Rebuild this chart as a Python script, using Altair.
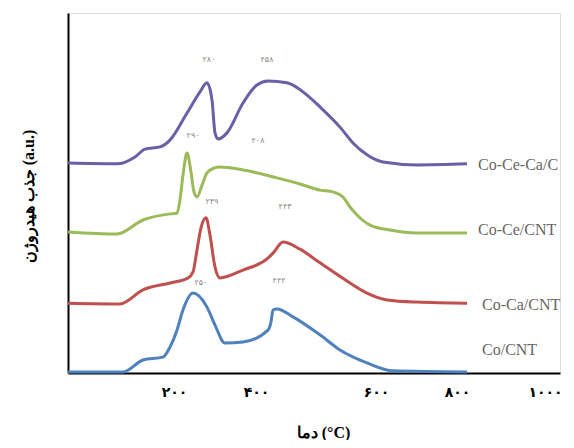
import altair as alt
import pandas as pd

# Curve data (x: temperature-axis units 0-1000, y: relative absorption 0-100)
purple_x = [0, 99.6, 136.2, 156.5, 187.0, 207.3, 241.9, 268.3, 282.5, 292.7, 298.8, 304.9, 323.2,
            355.7, 384.1, 406.5, 445.1, 485.8, 512.2, 552.8, 579.3, 607.7, 640.2, 709.3, 811.0]
purple_y = [58.3, 58.1, 60.0, 62.2, 62.8, 64.7, 72.2, 78.1, 80.6, 75.8, 66.7, 65.0, 66.7,
            75.0, 80.0, 81.1, 80.6, 77.2, 73.9, 68.3, 63.9, 60.6, 58.6, 57.8, 58.1]

green_x = [0, 99.6, 152.4, 207.3, 221.5, 227.6, 233.7, 241.9, 250.0, 256.1, 262.2, 272.4, 282.5,
           296.7, 308.9, 355.7, 424.8, 471.5, 512.2, 538.6, 558.9, 573.2, 587.4, 613.8, 654.5, 709.3, 811.0]
green_y = [39.2, 38.6, 42.5, 44.2, 44.4, 48.1, 55.0, 61.1, 55.8, 50.3, 48.9, 52.2, 55.6,
           56.9, 57.2, 56.4, 54.2, 52.5, 50.8, 50.3, 48.9, 46.1, 43.9, 41.1, 39.7, 38.9, 38.9]

red_x = [0, 105.7, 152.4, 207.3, 243.9, 254.1, 262.2, 270.3, 280.5, 288.6, 298.8, 308.9, 355.7,
         404.5, 416.7, 437.0, 471.5, 512.2, 573.2, 607.7, 648.4, 709.3, 811.0]
red_y = [19.4, 19.2, 23.1, 25.0, 26.4, 28.1, 34.2, 40.3, 43.1, 38.3, 29.4, 26.4, 28.6,
         31.7, 33.3, 36.4, 34.4, 30.6, 25.0, 22.2, 20.3, 19.7, 19.4]

blue_x = [0, 111.8, 152.4, 193.1, 207.3, 221.5, 233.7, 254.1, 282.5, 298.8, 319.1, 355.7, 406.5,
          412.6, 416.7, 424.8, 457.3, 512.2, 552.8, 607.7, 660.6, 811.0]
blue_y = [0.3, 0.3, 3.6, 4.4, 7.2, 11.9, 17.5, 22.2, 18.3, 13.3, 8.3, 8.6, 11.9,
          14.2, 17.5, 17.8, 15.6, 10.6, 6.4, 2.8, 0.6, 0.3]

series_names = ["Co-Ce-Ca/C", "Co-Ce/CNT", "Co-Ca/CNT", "Co/CNT"]
series_colors = ["#6C5FA7", "#9BBB59", "#C0504D", "#4F81BD"]

# Series name labels at the right end of each curve
name_x = [833.5, 833.5, 841.5, 841.5]
name_y = [57.8, 39.7, 18.9, 6.4]

# Peak temperature annotations
peak_labels = ["۲۸۰", "۴۵۸", "۲۹۰", "۴۰۸", "۲۳۹", "۴۴۳", "۲۵۰", "۴۴۲"]
peak_x = [286.6, 404.5, 254.1, 386.2, 292.7, 441.1, 270.3, 428.9]
peak_y = [86.9, 86.9, 65.8, 64.4, 47.5, 46.1, 25.0, 25.6]

# x-axis tick positions and labels
tick_pos = [215.4, 382.1, 626.0, 790.7, 969.5]
tick_labels = ["۲۰۰", "۴۰۰", "۶۰۰", "۸۰۰", "۱۰۰۰"]

rows = []
for name, xs, ys in zip(series_names, [purple_x, green_x, red_x, blue_x],
                        [purple_y, green_y, red_y, blue_y]):
    for i, (xv, yv) in enumerate(zip(xs, ys)):
        rows.append({"series": name, "x": xv, "y": yv, "order": i})
df = pd.DataFrame(rows)

names_df = pd.DataFrame({"series": series_names, "x": name_x, "y": name_y})
peaks_df = pd.DataFrame({"label": peak_labels, "x": peak_x, "y": peak_y})

label_expr = " : ".join(
    [f"datum.value == {p} ? '{l}'" for p, l in zip(tick_pos, tick_labels)]
) + " : ''"

xscale = alt.Scale(domain=[0, 1000], nice=False, zero=False)
yscale = alt.Scale(domain=[0, 100], nice=False)

color = alt.Color("series:N", scale=alt.Scale(domain=series_names, range=series_colors), legend=None)

lines = alt.Chart(df).mark_line(strokeWidth=3, interpolate="monotone").encode(
    x=alt.X("x:Q", scale=xscale, axis=alt.Axis(
        values=tick_pos, labelExpr=label_expr, ticks=False, grid=False,
        domainColor="black", domainWidth=2,
        labelFont="DejaVu Sans", labelFontSize=14, labelFontWeight="bold", labelColor="black",
        labelPadding=12, labelFlush=False, labelOverlap=False,
        title="دما (°C)", titleFont="Liberation Serif", titleFontSize=16, titleFontWeight="bold",
        titleColor="black", titleX=255, titleY=59, titleBaseline="middle", titleAlign="center")),
    y=alt.Y("y:Q", scale=yscale, axis=alt.Axis(
        labels=False, ticks=False, grid=False, domainColor="black", domainWidth=2,
        title="جذب هیدروژن (a.u.)", titleFont="Liberation Serif", titleFontSize=16,
        titleFontWeight="bold", titleColor="black", titlePadding=32, titleY=183)),
    color=color,
    order="order:Q",
    detail="series:N",
)

names = alt.Chart(names_df).mark_text(
    align="left", baseline="middle", font="Liberation Serif", fontSize=16, color="#666666"
).encode(x=alt.X("x:Q", scale=xscale), y=alt.Y("y:Q", scale=yscale), text="series:N")

peaks = alt.Chart(peaks_df).mark_text(
    align="center", baseline="middle", font="DejaVu Sans", fontSize=8, color="#888888"
).encode(x=alt.X("x:Q", scale=xscale), y=alt.Y("y:Q", scale=yscale), text="label:N")

chart = alt.layer(lines, names, peaks).properties(
    width=492, height=360,
    autosize=alt.AutoSizeParams(type="none"),
    padding={"left": 60, "top": 5, "right": 6, "bottom": 67},
).configure_view(stroke=None).configure(background="white")

chart.save("out.html", embed_options={"renderer": "svg", "actions": False})
